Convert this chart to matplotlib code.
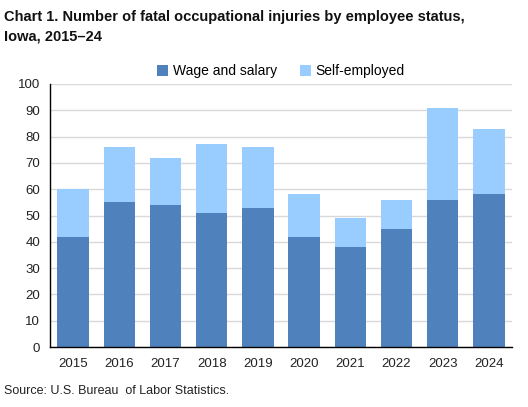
import matplotlib
matplotlib.use("Agg")
import matplotlib.pyplot as plt
import numpy as np

years = ["2015", "2016", "2017", "2018", "2019", "2020", "2021", "2022", "2023", "2024"]
wage_salary = [42, 55, 54, 51, 53, 42, 38, 45, 56, 58]
self_employed = [18, 21, 18, 26, 23, 16, 11, 11, 35, 25]

plt.rcParams['font.family'] = ['Liberation Sans', 'DejaVu Sans']

fig = plt.figure(figsize=(5.28, 4.07), dpi=100)
ax = fig.add_axes([50/528, 60/407, 462/528, 263/407])

x = np.arange(len(years))
w = 0.68
c1 = "#4F81BD"
c2 = "#99CCFF"
ax.bar(x, wage_salary, w, color=c1, label="Wage and salary", zorder=3)
ax.bar(x, self_employed, w, bottom=wage_salary, color=c2, label="Self-employed", zorder=3)

ax.set_xlim(-0.5, len(years) - 0.5)
ax.set_ylim(0, 100)
ax.set_yticks(range(0, 101, 10))
ax.set_xticks(x)
ax.set_xticklabels(years)
ax.tick_params(axis='both', labelsize=9.5, length=0, colors="#222222")
ax.tick_params(axis='x', pad=8)
ax.tick_params(axis='y', pad=7)
ax.grid(axis='y', color="#D9D9D9", linewidth=1, zorder=0)
for s in ["top", "right"]:
    ax.spines[s].set_visible(False)
for s in ["left", "bottom"]:
    ax.spines[s].set_color("black")
    ax.spines[s].set_linewidth(1)
ax.spines["left"].set_zorder(4)
ax.spines["bottom"].set_zorder(4)

ax.legend(loc="lower center", bbox_to_anchor=(0.5, 1.0), ncol=2, frameon=False,
          fontsize=10, handlelength=0.8, handleheight=0.8, handletextpad=0.3,
          columnspacing=1.7, borderaxespad=0.0)

fig.text(4/528, 1 - 10/407, "Chart 1. Number of fatal occupational injuries by employee status,\nIowa, 2015\u201324",
         fontsize=10.5, fontweight="bold", va="top", ha="left", linespacing=1.5, color="#111111")
fig.text(4/528, 1 - 391/407, "Source: U.S. Bureau  of Labor Statistics.", fontsize=9,
         va="center", ha="left", color="#222222")

fig.savefig("out.png", dpi=100)
